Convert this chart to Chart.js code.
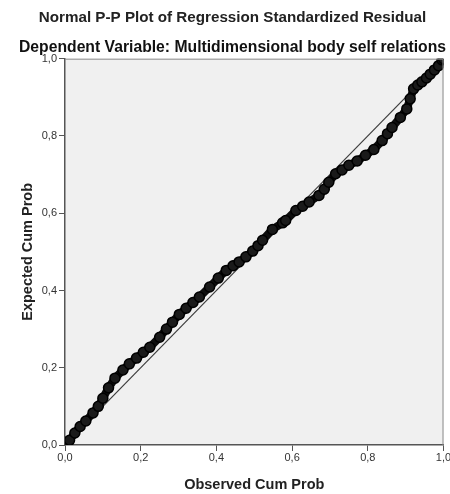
<!DOCTYPE html>
<html>
<head>
<meta charset="utf-8">
<script src="https://cdn.jsdelivr.net/npm/chart.js@4.4.1/dist/chart.umd.min.js"></script>
<style>
  html, body { margin: 0; padding: 0; background: #fff; }
  #wrap { width: 450px; height: 494px; }
</style>
</head>
<body>
<div id="wrap"><canvas id="c" width="450" height="494"></canvas></div>
<script>
// observed vs expected cumulative probability
const observed = [
  0.000, 0.004, 0.012, 0.026, 0.040, 0.055, 0.074, 0.088, 0.100, 0.115,
  0.132, 0.153, 0.170, 0.189, 0.207, 0.224, 0.250, 0.268, 0.284, 0.302,
  0.320, 0.338, 0.355, 0.382, 0.405, 0.426, 0.444, 0.460, 0.478, 0.496,
  0.510, 0.522, 0.548, 0.575, 0.583, 0.610, 0.628, 0.645, 0.671, 0.685,
  0.697, 0.715, 0.732, 0.750, 0.772, 0.794, 0.816, 0.838, 0.852, 0.864,
  0.886, 0.903, 0.912, 0.921, 0.932, 0.943, 0.955, 0.965, 0.976, 0.987,
  0.996, 1.000
];
const expected = [
  0.000, 0.004, 0.012, 0.031, 0.048, 0.062, 0.083, 0.100, 0.121, 0.148,
  0.173, 0.194, 0.210, 0.225, 0.240, 0.253, 0.279, 0.300, 0.318, 0.338,
  0.354, 0.369, 0.383, 0.409, 0.432, 0.452, 0.464, 0.474, 0.487, 0.502,
  0.516, 0.530, 0.558, 0.575, 0.581, 0.607, 0.618, 0.629, 0.646, 0.662,
  0.680, 0.702, 0.712, 0.724, 0.735, 0.750, 0.765, 0.788, 0.806, 0.822,
  0.848, 0.870, 0.896, 0.922, 0.932, 0.940, 0.950, 0.960, 0.971, 0.982,
  0.997, 1.000
];
const refLine = [0, 1];
const tickValues = [0, 0.2, 0.4, 0.6, 0.8, 1.0];

const points = observed.map((x, i) => ({ x: x, y: expected[i] }));

// grey plot background and frame
const plotFrame = {
  id: 'plotFrame',
  beforeDraw(chart) {
    const { ctx, chartArea: a } = chart;
    ctx.save();
    ctx.fillStyle = '#f0f0f0';
    ctx.fillRect(a.left, a.top, a.right - a.left, a.bottom - a.top);
    ctx.restore();
  },
  afterDatasetsDraw(chart) {
    const { ctx, chartArea: a } = chart;
    ctx.save();
    ctx.strokeStyle = '#8a8a8a';
    ctx.lineWidth = 1;
    ctx.beginPath();
    ctx.moveTo(a.left, a.top + 0.5);
    ctx.lineTo(a.right - 0.5, a.top + 0.5);
    ctx.lineTo(a.right - 0.5, a.bottom);
    ctx.stroke();
    ctx.restore();
  }
};

const fmt = v => v.toFixed(1).replace('.', ',');

new Chart(document.getElementById('c'), {
  type: 'scatter',
  data: {
    datasets: [
      {
        data: points,
        showLine: true,
        borderColor: '#0d0d0d',
        borderWidth: 8,
        pointRadius: 5,
        pointBackgroundColor: '#1a1a1a',
        pointBorderColor: '#000',
        pointBorderWidth: 1.5,
        order: 1
      },
      {
        data: refLine.map(v => ({ x: v, y: v })),
        showLine: true,
        borderColor: '#3c3c3c',
        borderWidth: 1.2,
        pointRadius: 0,
        order: 2
      }
    ]
  },
  options: {
    responsive: false,
    animation: false,
    layout: { padding: { top: 0, right: 4, bottom: 0, left: 19 } },
    plugins: {
      legend: { display: false },
      tooltip: { enabled: false },
      title: {
        display: true,
        text: 'Normal P-P Plot of Regression Standardized Residual',
        color: '#222',
        font: { family: 'Liberation Sans, Arial', size: 15.2, weight: 'bold' },
        padding: { top: 9, bottom: 11 }
      },
      subtitle: {
        display: true,
        text: 'Dependent Variable: Multidimensional body self relations',
        color: '#111',
        font: { family: 'Liberation Sans, Arial', size: 16.2, weight: 'bold' },
        padding: { top: 0, bottom: 1 }
      }
    },
    scales: {
      x: {
        type: 'linear',
        min: 0, max: 1,
        afterBuildTicks: s => { s.ticks = tickValues.map(v => ({ value: v })); },
        afterFit: s => { s.height = 49; s.paddingRight = 0; },
        grid: { drawOnChartArea: false, drawTicks: true, tickLength: 6, color: '#555' },
        border: { display: true, color: '#555', width: 1.5 },
        ticks: {
          color: '#333',
          padding: 0,
          maxRotation: 0,
          font: { family: 'Liberation Sans, Arial', size: 11 },
          callback: v => fmt(v)
        },
        title: {
          display: true,
          text: 'Observed Cum Prob',
          color: '#222',
          font: { family: 'Liberation Sans, Arial', size: 14.5, weight: 'bold' },
          padding: { top: 10, bottom: 0 }
        }
      },
      y: {
        type: 'linear',
        min: 0, max: 1,
        afterBuildTicks: s => { s.ticks = tickValues.map(v => ({ value: v })); },
        afterFit: s => { s.width = 46; s.paddingTop = 0; },
        grid: { drawOnChartArea: false, drawTicks: true, tickLength: 6, color: '#555' },
        border: { display: true, color: '#555', width: 1.5 },
        ticks: {
          color: '#333',
          padding: 2,
          font: { family: 'Liberation Sans, Arial', size: 11 },
          callback: v => fmt(v)
        },
        title: {
          display: true,
          text: 'Expected Cum Prob',
          color: '#222',
          font: { family: 'Liberation Sans, Arial', size: 14.5, weight: 'bold' },
          padding: { top: 0, bottom: 0 }
        }
      }
    }
  },
  plugins: [plotFrame]
});
</script>
</body>
</html>
